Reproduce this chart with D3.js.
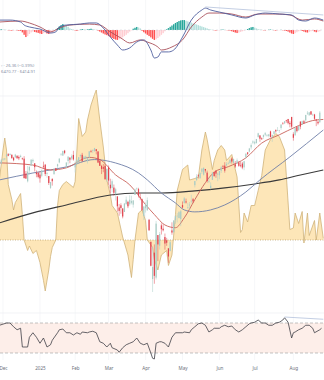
<!DOCTYPE html>
<html lang="en">
<head>
<meta charset="UTF-8">
<title>SPX daily</title>
<script src="https://d3js.org/d3.v7.min.js"></script>
<style>
  body, html { margin: 0; padding: 0; background: #fff; }
  svg { display: block; font-family: "Noto Sans", Arial, sans-serif; }
</style>
</head>
<body>
<div id="chart"></div>
<script>
// bar index 0 = 2 Dec 2024; the first candle is index -2
const firstIndex = -2;

const monthTicks = [0, 21, 41, 60, 81, 102, 123, 143, 165];
const monthLabels = ["Dec", "2025", "Feb", "Mar", "Apr", "May", "Jun", "Jul", "Aug"];

// daily [open, high, low, close]
const candles = [
  [6015,6020,5984,5998],[6003,6044,6003,6032],
  [6040,6053,6026,6047],[6042,6052,6033,6050],[6069,6089,6061,6086],[6089,6099,6070,6075],[6081,6099,6079,6090],
  [6083,6088,6048,6053],[6057,6065,6024,6034],[6060,6092,6056,6085],[6074,6079,6051,6051],[6064,6078,6035,6051],
  [6063,6085,6059,6074],[6052,6058,6035,6050],[6048,6071,5867,5872],[5912,5936,5866,5867],[5842,5982,5832,5931],
  [5941,5978,5902,5974],[5985,6040,5983,6040],[6024,6049,6007,6037],[6006,6006,5932,5971],[5920,5941,5879,5907],
  [5920,5929,5869,5882],
  [5903,5935,5830,5869],[5892,5950,5880,5942],[5983,6021,5960,5975],[5993,6000,5890,5909],[5910,5927,5874,5918],
  [5890,5890,5809,5827],[5782,5837,5773,5836],[5863,5871,5803,5843],[5906,5960,5906,5950],[5960,5964,5938,5937],
  [5979,6002,5958,5997],[6014,6051,6006,6049],[6081,6100,6076,6086],[6076,6119,6075,6119],[6121,6128,6088,6101],
  [5970,6018,5962,6012],[6027,6069,5994,6067],[6057,6062,6006,6039],[6050,6087,6034,6071],[6082,6120,6030,6041],
  [5969,6022,5923,5994],[5998,6042,5991,6037],[6021,6062,6007,6061],[6072,6084,6051,6083],[6083,6101,6020,6026],
  [6046,6073,6044,6066],[6050,6076,6042,6068],[6025,6064,6004,6052],[6060,6116,6051,6115],[6116,6128,6103,6115],
  [6121,6129,6099,6129],[6117,6147,6111,6144],[6134,6135,6087,6118],[6114,6115,6008,6013],[6027,6044,5982,5983],
  [5982,5992,5908,5955],[5971,6000,5925,5956],[5981,5993,5858,5861],[5857,5959,5837,5955],
  [5968,5986,5810,5849],[5811,5866,5733,5778],[5781,5860,5743,5843],[5785,5813,5711,5738],[5726,5783,5667,5770],
  [5705,5705,5565,5615],[5604,5636,5529,5573],[5624,5642,5547,5599],[5595,5598,5505,5522],[5563,5645,5563,5639],
  [5635,5703,5629,5675],[5655,5665,5598,5615],[5633,5715,5620,5675],[5646,5711,5632,5663],[5630,5670,5603,5668],
  [5718,5775,5718,5767],[5776,5786,5758,5777],[5771,5783,5695,5712],[5696,5732,5670,5693],[5679,5685,5572,5581],
  [5527,5618,5489,5612],
  [5597,5650,5558,5633],[5580,5695,5572,5671],[5492,5500,5391,5397],[5292,5292,5069,5074],[4953,5247,4835,5062],
  [5193,5268,4910,4982],[4966,5482,4949,5457],[5353,5353,5116,5268],[5256,5381,5221,5363],[5441,5460,5358,5406],
  [5411,5450,5386,5397],[5335,5367,5220,5276],[5305,5328,5255,5283],[5232,5233,5101,5158],[5207,5309,5207,5288],
  [5395,5469,5356,5376],[5381,5489,5371,5485],[5490,5528,5455,5525],[5529,5553,5468,5529],[5508,5571,5505,5561],
  [5500,5581,5434,5569],
  [5626,5659,5598,5604],[5645,5700,5639,5687],[5659,5685,5640,5650],[5605,5646,5590,5607],[5622,5654,5579,5631],
  [5663,5720,5640,5664],[5679,5691,5646,5660],[5807,5845,5786,5844],[5854,5907,5844,5886],[5896,5906,5868,5892],
  [5870,5924,5867,5917],[5929,5959,5909,5958],[5902,5970,5895,5964],[5954,5955,5921,5940],[5921,5939,5830,5845],
  [5841,5878,5826,5842],[5782,5833,5768,5802],[5855,5924,5855,5922],[5926,5930,5886,5889],[5939,5944,5874,5912],
  [5903,5922,5843,5912],
  [5897,5937,5861,5936],[5938,5982,5918,5970],[5978,5991,5966,5971],[5985,6016,5921,5939],[5987,6017,5978,6000],
  [6004,6021,5995,6006],[6009,6043,6000,6038],[6049,6060,6003,6022],[6010,6046,6006,6045],[5997,6027,5964,5977],
  [6004,6050,6004,6033],[6012,6024,5974,5983],[5987,6018,5970,5981],[6004,6018,5952,5967],[5969,6028,5943,6025],
  [6062,6101,6051,6092],[6105,6108,6080,6092],[6112,6146,6107,6141],[6151,6188,6132,6173],[6194,6215,6180,6205],
  [6187,6210,6177,6198],[6190,6228,6186,6227],[6246,6284,6240,6279],[6259,6263,6202,6230],[6233,6242,6218,6226],
  [6246,6269,6228,6263],[6266,6290,6253,6280],[6255,6273,6248,6260],[6255,6273,6242,6269],[6296,6303,6242,6244],
  [6248,6268,6201,6264],[6273,6300,6269,6297],[6308,6315,6285,6297],[6304,6336,6301,6306],[6307,6310,6282,6309],
  [6327,6359,6311,6359],[6368,6381,6360,6363],[6370,6390,6363,6389],[6397,6401,6375,6390],[6409,6410,6360,6371],
  [6374,6390,6333,6362],[6428,6428,6327,6339],
  [6271,6288,6212,6238],[6260,6330,6260,6330],[6336,6343,6287,6299],[6307,6352,6301,6345],[6385,6389,6316,6340],
  [6359,6395,6358,6389],[6389,6401,6364,6374],[6398,6447,6377,6446],[6458,6481,6446,6466],[6442,6473,6442,6469],
  [6478,6482,6446,6450],[6445,6458,6436,6449],[6450,6456,6401,6411],[6405,6409,6344,6396],[6384,6394,6358,6370],
  [6380,6482,6374,6467]
];

// moving averages, [bar index, price]
const ma20 = [[-2,6010],[17,5990],[27,5945],[36,5965],[49,6060],[55,6040],[64,5900],[72,5810],[81,5630],[86,5540],
  [92,5445],[98,5420],[103,5510],[109,5675],[115,5830],[120,5925],[128,5975],[138,6055],[147,6190],[157,6265],
  [166,6335],[176,6395],[182,6405]];
const ma50 = [[-2,5855],[17,5918],[36,5973],[52,6040],[64,6009],[77,5918],[82,5855],[90,5736],[98,5645],[103,5582],
  [109,5564],[118,5582],[126,5627],[138,5745],[146,5855],[163,6064],[182,6309]];
const ma200 = [[-2,5464],[17,5555],[36,5627],[61,5718],[77,5736],[90,5736],[109,5755],[126,5782],[143,5818],
  [157,5855],[169,5900],[182,5945]];

// yellow oscillator, [bar index, value]
const breadth = [[-2,41],[0,60],[1,68],[2,60],[3,37],[5,27],[6,20],[7,25],[10,31],[11,17],[12,0],[14,-7],[15,-4],
  [17,-9],[19,-7],[21,-15],[23,-27],[24,-34],[26,-20],[27,-11],[28,-5],[30,0],[31,23],[32,33],[34,37],[36,39],
  [38,37],[40,35],[41,39],[43,81],[45,69],[47,72],[48,80],[50,90],[52,97],[53,100],[55,80],[57,62],[59,40],[61,30],
  [62,23],[65,18],[68,2],[69,-2],[71,-10],[73,-25],[74,-13],[75,0],[77,18],[79,20],[81,13],[82,0],[85,-5],[86,-13],
  [88,-20],[90,-10],[93,-7],[94,-17],[96,-10],[98,17],[99,33],[102,47],[103,48],[105,50],[106,40],[109,41],[111,42],
  [113,60],[115,72],[116,67],[119,47],[120,53],[122,60],[124,63],[126,60],[127,53],[130,57],[133,42],[135,5],[136,7],
  [137,18],[139,12],[141,23],[143,23],[145,33],[147,43],[149,60],[152,67],[155,71],[157,69],[160,60],[161,43],
  [163,7],[165,8],[166,18],[168,11],[170,19],[171,-2],[173,18],[174,3],[177,13],[178,0],[180,18],[182,1]];

// MACD 12 26 9, [bar index, value]
const macdLine = [[-2,62],[4,62],[10,50],[12,31],[15,19],[21,6],[27,-19],[30,-12],[32,19],[36,31],[44,37],[49,44],
  [53,44],[57,12],[61,-44],[65,-94],[68,-125],[72,-112],[76,-75],[80,-62],[84,-125],[86,-175],[88,-169],[90,-137],
  [94,-137],[97,-125],[102,-44],[107,62],[113,125],[115,137],[118,125],[123,112],[130,94],[138,75],[143,94],
  [149,106],[157,100],[164,94],[168,62],[172,56],[177,75],[182,62]];
const signalLine = [[-2,50],[10,56],[15,44],[21,19],[27,-12],[32,12],[38,31],[49,37],[55,31],[61,-12],[67,-50],
  [72,-81],[78,-62],[82,-75],[88,-106],[90,-125],[96,-106],[102,-62],[107,19],[113,81],[117,106],[123,106],
  [130,100],[138,81],[145,100],[155,100],[163,94],[170,62],[177,69],[182,56]];
// one histogram value per bar from index -2
const macdHist = [4,5,3,2,1,-2,-3,-4,-3,-2,-3,-5,-6,
  -15,-30,-44,-38, -25,-15,-10, -12,-15,-18,-22,-25,-20,-18,-22,-25,-20,-15, -8,2,
  12,22,30,37,33,28,20, 10,6,2,-3,-6,-4,3,6,5,2,4,6,8,6,3,1,
  -4,-10,-16,-22,-28,-32,-38,-44,-50,-56,-60,-62,-58,-52,-46,-38,-30, -20,-10,-2,
  8,14,19,16,10, -5,-14,-22,-30,-38,-46,-55,-62,-58,-50, -40,-30,-20,-8,
  4,12,20,28,36,44,50,56,60,62,62,58,54,50, 46,42,38,34,30,26,22,18,14,10,6,
  3,1,-2,-4,-3,-2,2,3,1,-1,-3,-4, -8,-12,-16,-19,-16,-12,-8,-4,0,
  6,12,17,19,15,10,5, 3,2,-2,-3,-1,2,3,1,-2,-4,-3,-1,1,-2,-4,-6,
  -10,-16,-22,-25,-20,-14,-8, -4,-6,-10,-14,-16,-12,-8,-6,-10,-14,-12,-8];
const macdTrend = [[115,144],[182,94]];

// RSI 14, [bar index, value]
const rsi = [[-2,67],[2,70],[4,70],[6,65],[8,61],[10,63],[11,38],[14,38],[15,51],[17,57],[19,51],[21,43],[23,50],
  [25,38],[27,41],[28,47],[31,57],[32,61],[34,62],[36,57],[38,57],[40,54],[42,57],[44,55],[45,58],[48,57],[49,58],
  [51,59],[53,57],[55,45],[57,43],[59,38],[61,43],[62,37],[65,34],[66,31],[68,37],[70,41],[72,43],[74,45],[76,50],
  [78,43],[80,41],[82,43],[84,30],[85,23],[86,22],[87,43],[89,45],[90,45],[92,43],[94,38],[96,51],[98,57],[102,57],
  [103,58],[106,57],[107,61],[109,65],[111,69],[113,70],[115,67],[117,58],[119,61],[120,63],[123,63],[124,65],
  [126,67],[128,65],[130,66],[132,61],[134,58],[136,61],[138,65],[140,69],[141,70],[143,71],[145,74],[147,70],
  [149,70],[151,67],[153,67],[155,70],[157,71],[159,74],[160,77],[162,71],[164,50],[165,57],[166,58],[168,61],
  [170,63],[172,67],[174,67],[176,63],[177,57],[180,61],[181,63]];
const rsiTrend = [[160,78],[182,75]];
const rsiBands = [70, 30];

const width = 324, height = 380;

const x = d3.scaleLinear().domain([0, 182]).range([3, 323.3]);
const yPrice = d3.scaleLinear().domain([4835, 6400]).range([292, 120]);
const yOsc = d3.scaleLinear().domain([0, 100]).range([240, 90]);
const yMacd = d3.scaleLinear().domain([0, 100]).range([30, 14]);
const yRsi = d3.scaleLinear().domain([30, 70]).range([353, 323]);

const svg = d3.select("#chart").append("svg")
  .attr("width", width)
  .attr("height", height);

// grid
svg.append("g").selectAll("line")
  .data(monthTicks)
  .join("line")
  .attr("x1", d => x(d)).attr("x2", d => x(d))
  .attr("y1", 0).attr("y2", 360)
  .attr("stroke", "#f2f3f6").attr("stroke-width", 0.7);
svg.append("g").selectAll("line")
  .data([96, 313])
  .join("line")
  .attr("x1", 0).attr("x2", width)
  .attr("y1", d => d).attr("y2", d => d)
  .attr("stroke", "#eceef2").attr("stroke-width", 0.7);

// yellow oscillator behind the price
svg.append("path")
  .datum(breadth)
  .attr("fill", "#fde6b8")
  .attr("d", d3.area().x(d => x(d[0])).y0(yOsc(0)).y1(d => yOsc(d[1])));
svg.append("path")
  .datum(breadth)
  .attr("fill", "none")
  .attr("stroke", "#cfb27a")
  .attr("stroke-width", 0.8)
  .attr("d", d3.line().x(d => x(d[0])).y(d => yOsc(d[1])));
svg.append("line")
  .attr("x1", 0).attr("x2", width)
  .attr("y1", yOsc(0)).attr("y2", yOsc(0))
  .attr("stroke", "#b59a63").attr("stroke-width", 0.7)
  .attr("stroke-dasharray", "1,1.5");

// moving averages
const maLine = d3.line().x(d => x(d[0])).y(d => yPrice(d[1])).curve(d3.curveMonotoneX);
[[ma200, "#3a3a3a", 1.1], [ma50, "#6f7fa8", 0.9], [ma20, "#c9625a", 0.9]].forEach(([data, color, w]) => {
  svg.append("path")
    .datum(data)
    .attr("fill", "none")
    .attr("stroke", color)
    .attr("stroke-width", w)
    .attr("d", maLine);
});

// candles
const bars = candles.map((c, i) => ({ i: i + firstIndex, o: c[0], h: c[1], l: c[2], c: c[3] }));
const candle = svg.append("g").selectAll("g")
  .data(bars)
  .join("g")
  .attr("fill", d => d.c >= d.o ? "#a9ccc6" : "#e0454f")
  .attr("stroke", d => d.c >= d.o ? "#a9ccc6" : "#e0454f");
candle.append("line")
  .attr("x1", d => x(d.i)).attr("x2", d => x(d.i))
  .attr("y1", d => yPrice(d.h)).attr("y2", d => yPrice(d.l))
  .attr("stroke-width", 0.5);
candle.append("rect")
  .attr("stroke", "none")
  .attr("x", d => x(d.i) - 0.6)
  .attr("width", 1.2)
  .attr("y", d => yPrice(Math.max(d.o, d.c)))
  .attr("height", d => Math.max(0.6, Math.abs(yPrice(d.o) - yPrice(d.c))));

// MACD panel
const histBars = macdHist.map((v, i) => ({ i: i + firstIndex, v, prev: i ? macdHist[i - 1] : v }));
svg.append("g").selectAll("rect")
  .data(histBars)
  .join("rect")
  .attr("x", d => x(d.i) - 0.7)
  .attr("width", 1.4)
  .attr("y", d => Math.min(yMacd(d.v), yMacd(0)))
  .attr("height", d => Math.abs(yMacd(d.v) - yMacd(0)))
  .attr("fill", d => d.v >= 0 ? (d.v >= d.prev ? "#26a69a" : "#b2dfdb") : (d.v <= d.prev ? "#ff5252" : "#ffcdd2"));
svg.append("line")
  .attr("x1", 0).attr("x2", width)
  .attr("y1", yMacd(0)).attr("y2", yMacd(0))
  .attr("stroke", "#c8ccd6").attr("stroke-width", 0.5)
  .attr("stroke-dasharray", "2,2");
const macdPath = d3.line().x(d => x(d[0])).y(d => yMacd(d[1])).curve(d3.curveMonotoneX);
svg.append("path").datum(signalLine)
  .attr("fill", "none").attr("stroke", "#a9505a").attr("stroke-width", 0.9)
  .attr("d", macdPath);
svg.append("path").datum(macdLine)
  .attr("fill", "none").attr("stroke", "#4f5f9e").attr("stroke-width", 0.9)
  .attr("d", macdPath);
svg.append("path").datum(macdTrend)
  .attr("fill", "none").attr("stroke", "#b4c2dc").attr("stroke-width", 0.8)
  .attr("d", d3.line().x(d => x(d[0])).y(d => yMacd(d[1])));

// legend
const legend = svg.append("g").attr("font-size", 4.2).attr("fill", "#8a93a8");
legend.append("text").attr("x", 1).attr("y", 67).text("◦ · 26.36 (−0.39%)");
legend.append("text").attr("x", 1).attr("y", 73).text("6470.77 · 6414.91");

// RSI panel
svg.append("rect")
  .attr("x", 0).attr("width", width)
  .attr("y", yRsi(70)).attr("height", yRsi(30) - yRsi(70))
  .attr("fill", "#fdeee9");
svg.append("g").selectAll("line")
  .data(rsiBands)
  .join("line")
  .attr("x1", 0).attr("x2", width)
  .attr("y1", d => yRsi(d)).attr("y2", d => yRsi(d))
  .attr("stroke", "#9a9a9a").attr("stroke-width", 0.6)
  .attr("stroke-dasharray", "3,2");
svg.append("path").datum(rsi)
  .attr("fill", "none").attr("stroke", "#3f3f46").attr("stroke-width", 0.8)
  .attr("d", d3.line().x(d => x(d[0])).y(d => yRsi(d[1])));
svg.append("path").datum(rsiTrend)
  .attr("fill", "none").attr("stroke", "#b4c2dc").attr("stroke-width", 0.8)
  .attr("d", d3.line().x(d => x(d[0])).y(d => yRsi(d[1])));

// time axis
const axis = svg.append("g")
  .attr("transform", "translate(0,364)")
  .call(d3.axisBottom(x).tickValues(monthTicks).tickSize(0).tickFormat((d, i) => monthLabels[i]));
axis.select(".domain").remove();
axis.selectAll("text")
  .attr("font-size", 4.6)
  .attr("fill", "#6b6f7a")
  .attr("font-family", "\"Noto Sans\", Arial, sans-serif");
</script>
</body>
</html>
